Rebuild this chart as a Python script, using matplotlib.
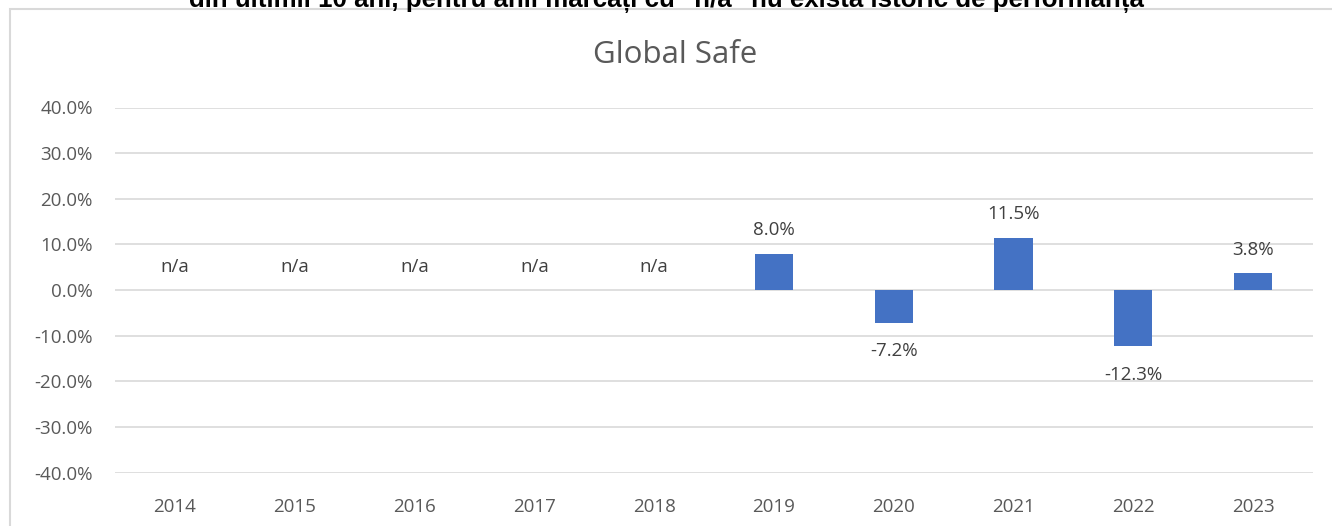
import matplotlib.pyplot as plt
from matplotlib.patches import Rectangle
import numpy as np

years = ['2014', '2015', '2016', '2017', '2018', '2019', '2020', '2021', '2022', '2023']
returns = [None, None, None, None, None, 0.080, -0.072, 0.115, -0.123, 0.038]
labels = ['n/a', 'n/a', 'n/a', 'n/a', 'n/a', '8.0%', '-7.2%', '11.5%', '-12.3%', '3.8%']
yticks = [-0.4, -0.3, -0.2, -0.1, 0.0, 0.1, 0.2, 0.3, 0.4]

font = ['Open Sans', 'DejaVu Sans']
grey = '#595959'
fs = 13.5

fig = plt.figure(figsize=(13.32, 5.26), dpi=100)
ax = fig.add_axes([115 / 1332, 53.5 / 526, 1198 / 1332, 365 / 526])

x = np.arange(len(years))
vals = [v if v is not None else 0 for v in returns]
ax.bar(x, vals, width=0.32, color='#4472C4', zorder=3)

for i, (v, lab) in enumerate(zip(returns, labels)):
    if v is None:
        ax.text(i, 0.05, lab, ha='center', va='center', fontsize=fs,
                color='#404040', family=font)
    elif v >= 0:
        ax.annotate(lab, (i, v), xytext=(0, 13), textcoords='offset points',
                    ha='center', va='baseline', fontsize=fs, color='#404040', family=font)
    else:
        ax.annotate(lab, (i, v), xytext=(0, -14), textcoords='offset points',
                    ha='center', va='top', fontsize=fs, color='#404040', family=font)

ax.set_ylim(-0.4, 0.4)
ax.set_xlim(-0.5, len(years) - 0.5)
ax.set_yticks(yticks)
ax.set_yticklabels([f'{t * 100:.1f}%' for t in yticks],
                   family=font, fontsize=fs, color=grey)
ax.set_xticks(x)
ax.set_xticklabels(years, family=font, fontsize=fs, color=grey)
ax.tick_params(length=0)
ax.tick_params(axis='x', pad=18)
ax.tick_params(axis='y', pad=16)
ax.grid(axis='y', color='#d9d9d9', linewidth=1.2, zorder=0)
for s in ax.spines.values():
    s.set_visible(False)

fig.text(675 / 1332, 1 - 63 / 526, 'Global Safe', ha='center', va='baseline',
         fontsize=22.5, color=grey, family=font)

# header line, cut off by the top of the page (as in the source)
fig.text(666 / 1332, 1 - 7 / 526,
         'din ultimii 10 ani, pentru anii marcați cu "n/a" nu există istoric de performanță',
         ha='center', va='baseline', fontsize=18.6, fontweight='bold', color='black',
         family=['Liberation Sans Narrow', 'Liberation Sans', 'DejaVu Sans'])

fig.patches.append(Rectangle((9.5 / 1332, -0.1), 1.0, 1.1 - 9.5 / 526,
                             transform=fig.transFigure, fill=False,
                             edgecolor='#d9d9d9', linewidth=1.5))

fig.savefig('out.png', dpi=100)
